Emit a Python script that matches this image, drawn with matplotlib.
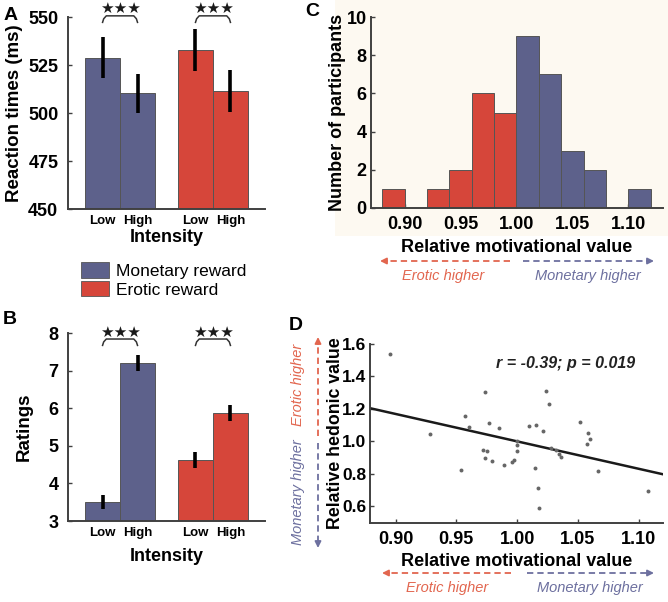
import numpy as np
import matplotlib
matplotlib.use('Agg')
import matplotlib.pyplot as plt
from matplotlib.patches import Patch, Rectangle, FancyArrowPatch
from matplotlib.lines import Line2D

plt.rcParams['font.family'] = ['Liberation Sans', 'DejaVu Sans']

# ---------------- data ----------------
intensity_labels = ['Low', 'High']
legend_labels = ['Monetary reward', 'Erotic reward']

rt_monetary = [528.8, 510.2]
rt_monetary_err = [10.7, 10.2]
rt_erotic = [533.0, 511.5]
rt_erotic_err = [11.0, 10.8]
rt_ticks = [450, 475, 500, 525, 550]

rating_monetary = [3.50, 7.20]
rating_monetary_err = [0.18, 0.22]
rating_erotic = [4.62, 5.87]
rating_erotic_err = [0.22, 0.21]
rating_ticks = [3, 4, 5, 6, 7, 8]

hist_bin_edges = [0.88, 0.90, 0.92, 0.94, 0.96, 0.98, 1.00, 1.02, 1.04, 1.06, 1.08, 1.10, 1.12]
hist_counts = [1, 0, 1, 2, 6, 5, 9, 7, 3, 2, 0, 1]
motiv_ticks = [0.90, 0.95, 1.00, 1.05, 1.10]
count_ticks = [0, 2, 4, 6, 8, 10]

scatter_motiv = [0.8956, 0.928, 0.9536, 0.9575, 0.9602, 0.9734, 0.9767, 0.9852,
                 0.972, 0.975, 0.9734, 0.9797, 0.9896, 0.9954, 0.9973,
                 1.000, 1.000, 1.000, 1.0096, 1.0154, 1.0146, 1.0173, 1.0179,
                 1.0212, 1.0237, 1.0261, 1.0275, 1.0319, 1.0346, 1.036,
                 1.052, 1.0583, 1.060, 1.0577, 1.0665, 1.1077]
scatter_hedonic = [1.540, 1.047, 0.821, 1.158, 1.090, 1.302, 1.111, 1.084,
                   0.947, 0.938, 0.898, 0.877, 0.855, 0.873, 0.887,
                   1.004, 0.975, 0.938, 1.092, 1.103, 0.836, 0.713, 0.590,
                   1.062, 1.308, 1.230, 0.959, 0.949, 0.922, 0.906,
                   1.119, 1.052, 1.015, 0.984, 0.815, 0.692]
fit_slope = -1.69
fit_intercept = 2.69
hedonic_ticks = [0.6, 0.8, 1.0, 1.2, 1.4, 1.6]
stat_text = 'r = -0.39; p = 0.019'

# ---------------- style ----------------
W, H = 668, 602
BLUE = '#5d618b'
RED = '#d6463a'
ARROW_RED = '#e2664f'
ARROW_BLUE = '#6d709f'
SPINE = '#404040'
EDGE = '#555555'

fig = plt.figure(figsize=(W / 100, H / 100), dpi=100)


def fx(px):
    return px / W


def fy(py):
    return 1 - py / H


def style_axes(ax, ypad=3):
    for s in ['top', 'right']:
        ax.spines[s].set_visible(False)
    for s in ['left', 'bottom']:
        ax.spines[s].set_color(SPINE)
        ax.spines[s].set_linewidth(1.4)
    ax.tick_params(direction='in', length=3, width=1, color=SPINE,
                   labelsize=13, pad=3)
    ax.tick_params(axis='y', pad=ypad)
    for lab in ax.get_xticklabels() + ax.get_yticklabels():
        lab.set_fontweight('bold')


# cream background behind panel C
fig.add_artist(Rectangle((fx(335), fy(236)), fx(668) - fx(335), fy(0) - fy(236),
                         transform=fig.transFigure, facecolor='#fdf9f1',
                         edgecolor='none', zorder=-5))

# ---------------- bar panels (A, B) ----------------
group_centers = np.array([1.0, 2.0])
bw = 0.376
offsets = np.array([-bw / 2, bw / 2])


def bar_panel(ax, mon, mon_err, ero, ero_err, ylim, yticks, ylabel, ylabelpad):
    for vals, errs, col, gc in [(mon, mon_err, BLUE, group_centers[0]),
                                (ero, ero_err, RED, group_centers[1])]:
        xs = gc + offsets
        ax.bar(xs, np.array(vals) - ylim[0], bottom=ylim[0], width=bw,
               color=col, edgecolor=EDGE, linewidth=0.7, zorder=2)
        ax.errorbar(xs, vals, yerr=errs, fmt='none', ecolor='black',
                    elinewidth=2.6, capsize=0, zorder=3)
    ax.set_xlim(0.44, 2.56)
    ax.set_ylim(*ylim)
    ax.set_yticks(yticks)
    ax.set_xticks(np.concatenate([group_centers[0] + offsets, group_centers[1] + offsets]))
    ax.set_xticklabels(intensity_labels * 2)
    style_axes(ax, ypad=7)
    ax.tick_params(axis='x', length=0, labelsize=9.5, pad=4)
    ax.set_ylabel(ylabel, fontsize=13.5, fontweight='bold', labelpad=ylabelpad)


def bracket(ax, x1, x2, ytop, drop, ystar):
    xs = [x1, x1 + 0.012, x1 + 0.04, x2 - 0.04, x2 - 0.012, x2]
    ys = [ytop - drop, ytop - drop * 0.45, ytop, ytop, ytop - drop * 0.45, ytop - drop]
    ax.plot(xs, ys, color='#333333', lw=1.1, clip_on=False, zorder=4)
    ax.text((x1 + x2) / 2, ystar, '\u2605\u2605\u2605', ha='center', va='center',
            fontsize=11, color='#1a1a1a', family=['DejaVu Sans'], clip_on=False)


axA = fig.add_axes([fx(68), fy(209), fx(265) - fx(68), fy(17) - fy(209)])
bar_panel(axA, rt_monetary, rt_monetary_err, rt_erotic, rt_erotic_err,
          (450, 550), rt_ticks, 'Reaction times (ms)', 3.5)
axA.set_xlabel('Intensity', fontsize=13, fontweight='bold', labelpad=2)
for gc in group_centers:
    bracket(axA, gc + offsets[0], gc + offsets[1], 550.6, 3.4, 554.5)

axB = fig.add_axes([fx(68), fy(521), fx(265) - fx(68), fy(333) - fy(521)])
bar_panel(axB, rating_monetary, rating_monetary_err, rating_erotic, rating_erotic_err,
          (3, 8), rating_ticks, 'Ratings', 11)
axB.set_xlabel('Intensity', fontsize=13, fontweight='bold', labelpad=7)
for gc in group_centers:
    bracket(axB, gc + offsets[0], gc + offsets[1], 7.84, 0.17, 8.02)

# legend
handles = [Patch(facecolor=BLUE, edgecolor=EDGE, linewidth=0.6),
           Patch(facecolor=RED, edgecolor=EDGE, linewidth=0.6)]
fig.legend(handles, legend_labels, loc='upper left',
           bbox_to_anchor=(fx(81), fy(262)), frameon=False, fontsize=12.5,
           handlelength=1.6, handleheight=1.0, handletextpad=0.4,
           labelspacing=0.12, borderpad=0, borderaxespad=0)

# ---------------- panel C ----------------
axC = fig.add_axes([fx(371), fy(208), fx(663) - fx(371), fy(17) - fy(208)])
edges = np.array(hist_bin_edges)
hist_colors = [RED if e < 1.0 - 1e-9 else BLUE for e in edges[:-1]]
axC.bar(edges[:-1], hist_counts, width=np.diff(edges), align='edge',
        color=hist_colors, edgecolor=EDGE, linewidth=0.7, zorder=2)
axC.set_xlim(0.87, 1.131)
axC.set_ylim(0, 10)
axC.set_xticks(motiv_ticks)
axC.set_xticklabels([f'{t:.2f}' for t in motiv_ticks])
axC.set_yticks(count_ticks)
axC.patch.set_alpha(0)
style_axes(axC)
axC.tick_params(axis='x', pad=6)
axC.set_ylabel('Number of participants', fontsize=13, fontweight='bold', labelpad=0.5)
axC.set_xlabel('Relative motivational value', fontsize=13, fontweight='bold', labelpad=4)

# ---------------- panel D ----------------
axD = fig.add_axes([fx(370), fy(522.5), fx(663) - fx(370), fy(344) - fy(522.5)])
axD.scatter(scatter_motiv, scatter_hedonic, s=8, color='#666666', zorder=3,
            linewidths=0)
xl = np.array([0.879, 1.12])
axD.plot(xl, fit_intercept + fit_slope * xl, color='#1a1a1a', lw=1.8, zorder=2)
axD.set_xlim(0.879, 1.12)
axD.set_ylim(0.5, 1.6)
axD.set_xticks(motiv_ticks)
axD.set_xticklabels([f'{t:.2f}' for t in motiv_ticks])
axD.set_yticks(hedonic_ticks)
axD.set_yticklabels([f'{t:.1f}' for t in hedonic_ticks])
style_axes(axD)
axD.tick_params(axis='x', pad=6)
axD.tick_params(axis='y', labelsize=12.5, pad=2.5)
axD.set_ylabel('Relative hedonic value', fontsize=12.8, fontweight='bold', labelpad=-1.5)
axD.set_xlabel('Relative motivational value', fontsize=13, fontweight='bold', labelpad=4)
axD.text(0.905, 0.89, stat_text, transform=axD.transAxes, ha='right', va='center',
         fontsize=11.5, fontweight='bold', style='italic', color='#222222')


# ---------------- arrows & annotations ----------------
def dashed_arrow(x0, y0, x1, y1, color):
    # dashed shaft from (x0,y0) towards (x1,y1) with a solid head at (x1,y1); pixel coords
    v = np.array([x1 - x0, y1 - y0], dtype=float)
    u = v / np.hypot(*v)
    hx, hy = x1 - u[0] * 7, y1 - u[1] * 7
    fig.add_artist(Line2D([fx(x0), fx(hx)], [fy(y0), fy(hy)], transform=fig.transFigure,
                          color=color, lw=1.3, ls=(0, (3.5, 2.2))))
    fig.add_artist(FancyArrowPatch(
        (fx(hx), fy(hy)), (fx(x1), fy(y1)), transform=fig.transFigure,
        arrowstyle='-|>', mutation_scale=9, color=color, lw=1.3, shrinkA=0, shrinkB=0))


# panel C arrows
dashed_arrow(510, 261, 380, 261, ARROW_RED)
dashed_arrow(523, 261, 654, 261, ARROW_BLUE)
fig.text(fx(443), fy(276), 'Erotic higher', ha='center', va='center',
         fontsize=10.5, style='italic', color=ARROW_RED)
fig.text(fx(588), fy(276), 'Monetary higher', ha='center', va='center',
         fontsize=10.5, style='italic', color=ARROW_BLUE)

# panel D horizontal arrows
dashed_arrow(511, 573, 382, 573, ARROW_RED)
dashed_arrow(527, 573, 654, 573, ARROW_BLUE)
fig.text(fx(447), fy(588), 'Erotic higher', ha='center', va='center',
         fontsize=10.5, style='italic', color=ARROW_RED)
fig.text(fx(590), fy(588), 'Monetary higher', ha='center', va='center',
         fontsize=10.5, style='italic', color=ARROW_BLUE)

# panel D vertical arrows
dashed_arrow(318, 436, 318, 337, ARROW_RED)
dashed_arrow(318, 443, 318, 548, ARROW_BLUE)
fig.text(fx(298), fy(385), 'Erotic higher', ha='center', va='center', rotation=90,
         fontsize=10.5, style='italic', color=ARROW_RED)
fig.text(fx(298), fy(492), 'Monetary higher', ha='center', va='center', rotation=90,
         fontsize=10.5, style='italic', color=ARROW_BLUE)

# panel letters
for letter, x, y in [('A', 11, 15), ('B', 10, 319), ('C', 312, 12), ('D', 296, 326)]:
    fig.text(fx(x), fy(y), letter, ha='center', va='center', fontsize=14,
             fontweight='bold', color='black')

fig.savefig('out.png', dpi=100)
